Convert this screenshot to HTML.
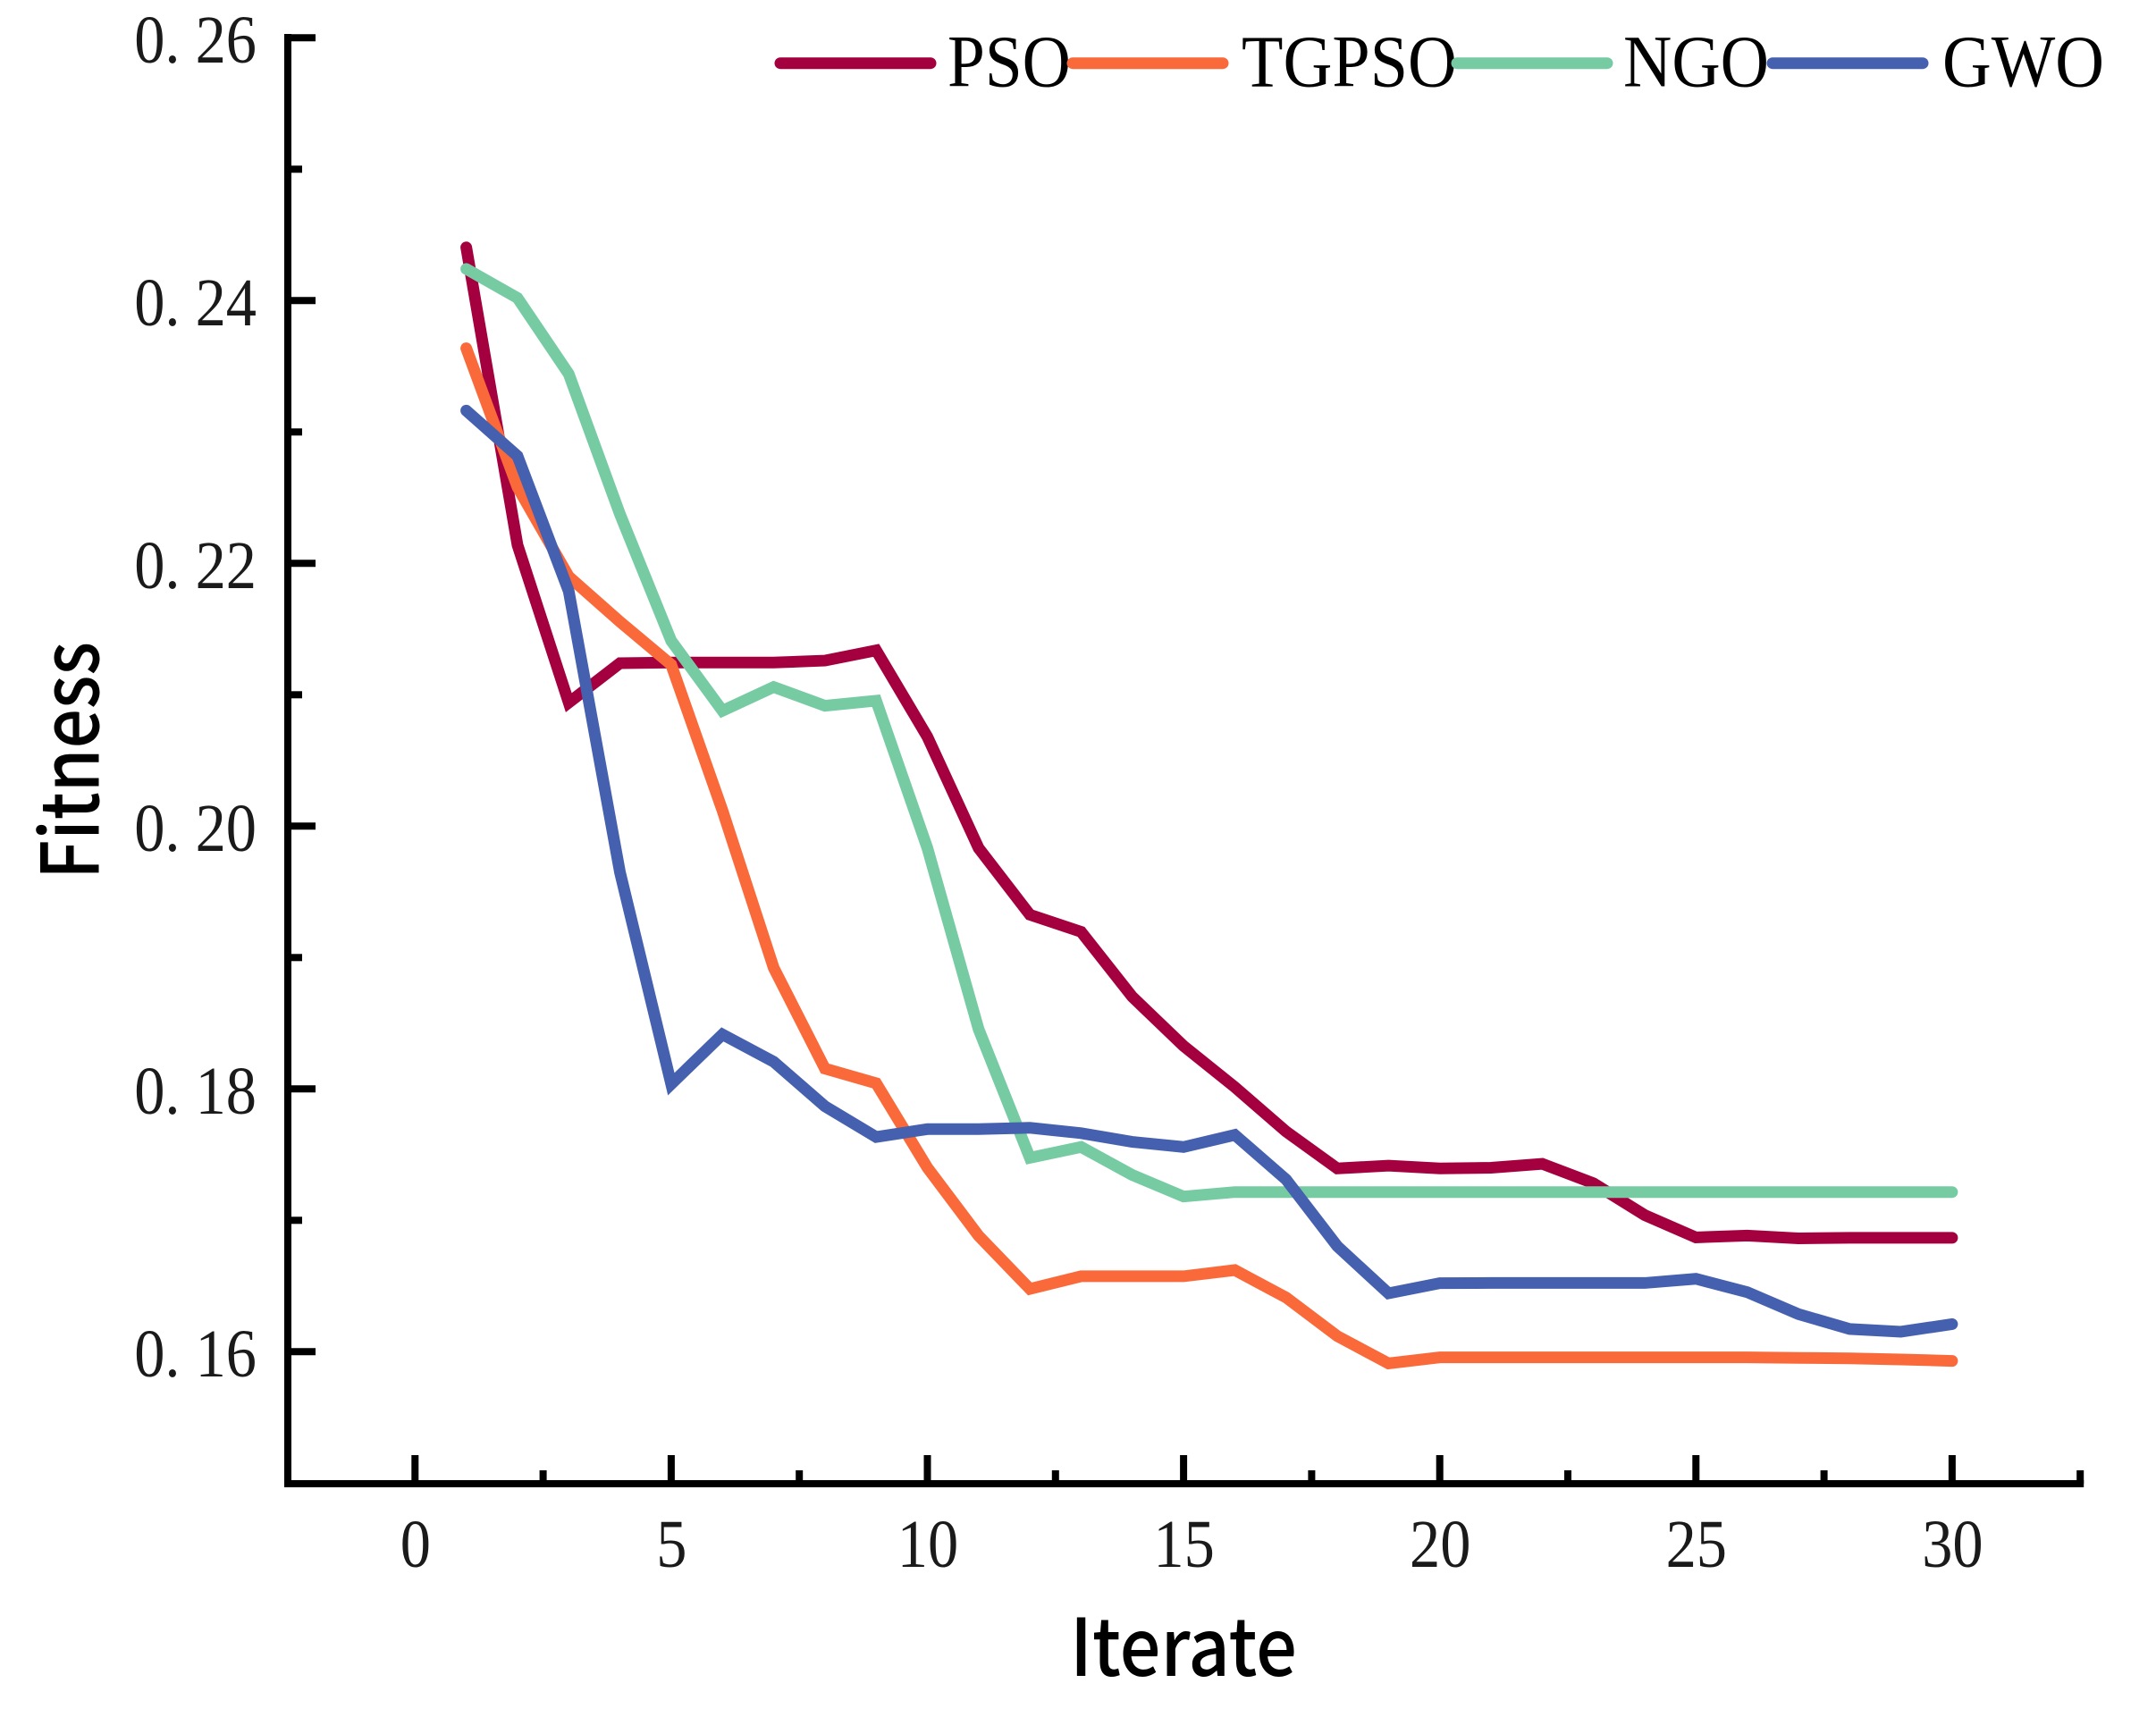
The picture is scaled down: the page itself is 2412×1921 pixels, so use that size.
<!DOCTYPE html>
<html lang="en">
<head>
<meta charset="utf-8">
<title>Fitness vs Iterate</title>
<style>
html,body{margin:0;padding:0;background:#fff;width:2412px;height:1921px;overflow:hidden}
svg{display:block}
.tick-label{font-family:"Liberation Serif",serif;font-size:76px;fill:#1a1a1a}
.legend-label{font-family:"Liberation Serif",serif;font-size:83px;fill:#000}
.axis-title{font-family:"Noto Sans CJK SC","Liberation Sans",sans-serif;font-weight:500;font-size:89px;fill:#000}
</style>
</head>
<body>
<svg id="chart" xmlns="http://www.w3.org/2000/svg" width="2412" height="1921" viewBox="0 0 2412 1921">
  <rect x="0" y="0" width="2412" height="1921" fill="#fff"></rect>
  <g id="series-layer"></g>
  <g id="axis-layer"></g>
  <g id="legend-layer"></g>
  <text class="axis-title" x="1197" y="1875" textLength="254" lengthAdjust="spacingAndGlyphs">Iterate</text>
  <text class="axis-title" transform="translate(110.7,984) rotate(-90)" x="0" y="0" textLength="266" lengthAdjust="spacingAndGlyphs">Fitness</text>
</svg>
<script>
const iterations = [1,2,3,4,5,6,7,8,9,10,11,12,13,14,15,16,17,18,19,20,21,22,23,24,25,26,27,28,29,30];
const psoValues = [.24405,.2214,.2094,.2124,.21245,.21245,.21245,.2126,.21338,.2068,.19833,.19326,.19196,.18701,.18327,.18014,.17676,.17395,.17416,.17395,.174,.1743,.17282,.1704,.1687,.16884,.16863,.16867,.16867,.16867];
const tgpsoValues = [.23637,.2258,.2190,.21556,.21229,.2012,.18922,.18155,.18043,.17401,.16882,.16478,.16574,.16574,.16574,.16621,.16413,.16119,.15911,.15957,.15957,.15957,.15957,.15957,.15957,.15957,.15953,.15949,.15941,.1593];
const ngoValues = [.24241,.2402,.23442,.22374,.21411,.20878,.21059,.20916,.20955,.19833,.18454,.17476,.17558,.17345,.17181,.17215,.17215,.17215,.17215,.17215,.17215,.17215,.17215,.17215,.17215,.17215,.17215,.17215,.17215,.17215];
const gwoValues = [.23163,.22817,.21788,.19649,.18037,.18415,.18207,.17868,.17634,.17694,.17694,.17704,.17663,.17597,.17558,.1765,.17311,.16803,.16444,.16522,.16523,.16523,.16523,.16523,.16555,.16453,.16286,.16173,.16152,.1621];
const yMajorTicks = [.16,.18,.20,.22,.24,.26];
const yMajorLabels = ["0. 16","0. 18","0. 20","0. 22","0. 24","0. 26"];
const yMinorTicks = [.17,.19,.21,.23,.25];
const xMajorTicks = [0,5,10,15,20,25,30];
const xMajorLabels = ["0","5","10","15","20","25","30"];
const xMinorTicks = [2.5,7.5,12.5,17.5,22.5,27.5,32.5];
const seriesNames = ["PSO","TGPSO","NGO","GWO"];

const NS = "http://www.w3.org/2000/svg";
const colors = ["#a4003f","#fa693a","#76cba3","#4560ae"];
const allSeries = [psoValues,tgpsoValues,ngoValues,gwoValues];
function xScale(v){ return 464.3 + 57.32 * v; }
function yScale(v){ return 42.3 + (0.26 - v) * 14700; }
const axisBottom = 1660, axisLeft = 322;
function mk(tag, attrs, parent){
  const el = document.createElementNS(NS, tag);
  for (const k in attrs) el.setAttribute(k, attrs[k]);
  parent.appendChild(el);
  return el;
}
const seriesLayer = document.getElementById("series-layer");
const axisLayer = document.getElementById("axis-layer");
const legendLayer = document.getElementById("legend-layer");

allSeries.forEach((vals, s) => {
  const pts = vals.map((v, i) => xScale(iterations[i]).toFixed(2) + "," + yScale(v).toFixed(2)).join(" ");
  const line = mk("polyline", {points: pts, fill: "none", stroke: colors[s], "stroke-width": 13, "stroke-linecap": "round", "stroke-linejoin": "miter", "stroke-miterlimit": 6}, seriesLayer);
  
  
});

const yAxis = mk("line", {x1: axisLeft, x2: axisLeft, y1: 38, y2: 1664, stroke: "#000", "stroke-width": 8}, axisLayer);


const xAxis = mk("line", {x1: 318, x2: xScale(32.5) + 4, y1: axisBottom, y2: axisBottom, stroke: "#000", "stroke-width": 8}, axisLayer);



yMajorTicks.forEach((v, i) => {
  const t = mk("line", {x1: axisLeft, x2: 353, y1: yScale(v), y2: yScale(v), stroke: "#000", "stroke-width": 8}, axisLayer);
  
  
  const lab = mk("text", {class: "tick-label", "text-anchor": "end", transform: "translate(287," + (yScale(v) + 27.5) + ") scale(.9,1)"}, axisLayer);
  lab.textContent = yMajorLabels[i];
  
  
});
yMinorTicks.forEach(v => {
  const t = mk("line", {x1: axisLeft, x2: 338, y1: yScale(v), y2: yScale(v), stroke: "#000", "stroke-width": 8}, axisLayer);
  
  
});
xMajorTicks.forEach((v, i) => {
  const t = mk("line", {x1: xScale(v), x2: xScale(v), y1: axisBottom, y2: 1628, stroke: "#000", "stroke-width": 8}, axisLayer);
  
  
  const lab = mk("text", {class: "tick-label", "text-anchor": "middle", transform: "translate(" + (xScale(v) + 0.5) + ",1753) scale(.9,1)"}, axisLayer);
  lab.textContent = xMajorLabels[i];
  
  
});
xMinorTicks.forEach(v => {
  const t = mk("line", {x1: xScale(v), x2: xScale(v), y1: axisBottom, y2: 1645, stroke: "#000", "stroke-width": 8}, axisLayer);
  
  
});

const legendSwatchX = [873, 1200, 1630, 1983];
const legendTextX = [1060, 1389, 1816, 2173];
const legendTextW = [138, 241, 163, 181];
seriesNames.forEach((name, s) => {
  const sw = mk("line", {x1: legendSwatchX[s], x2: legendSwatchX[s] + 168, y1: 70.7, y2: 70.7, stroke: colors[s], "stroke-width": 13, "stroke-linecap": "round"}, legendLayer);
  
  
  const lab = mk("text", {class: "legend-label", x: legendTextX[s], y: 96.5, textLength: legendTextW[s], lengthAdjust: "spacingAndGlyphs"}, legendLayer);
  lab.textContent = name;
  
  
});
</script>
</body>
</html>
